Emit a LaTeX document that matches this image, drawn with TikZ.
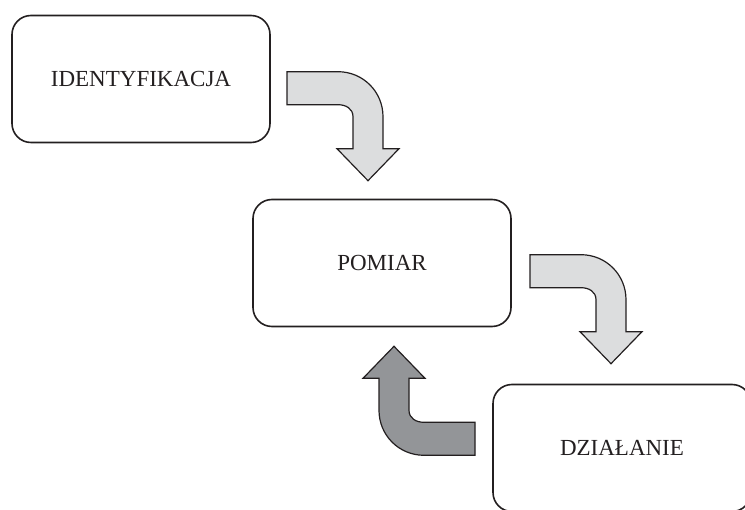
\documentclass[tikz,border=0pt]{standalone}
\usepackage{fontspec}
\setmainfont{Liberation Serif}
\usetikzlibrary{positioning,calc}
\definecolor{lightarr}{HTML}{DCDDDE}
\definecolor{darkarr}{HTML}{939598}
\definecolor{ink}{HTML}{231F20}
\tikzset{
  stage/.style={draw=ink, line width=1.6pt, rounded corners=19pt, minimum width=258pt, minimum height=127pt, text=ink, font=\fontsize{23}{27}\selectfont},
  bentarrow/.pic={
    \draw[draw=ink, line width=1.2pt, line join=miter, pic actions] (-81,-109) -- (-30,-109) .. controls (-5,-109) and (15,-89) .. (15,-64) -- (15,-32) -- (31,-32) -- (0,0) -- (-31,-32) -- (-15,-32) -- (-15,-64) .. controls (-15,-72) and (-22,-76) .. (-30,-76) -- (-81,-76) -- cycle;
  }
}
\begin{document}
\begin{tikzpicture}[x=1pt, y=-1pt]
\useasboundingbox (0,0) rectangle (745,510);
% the three stages
\node[stage] (ident) at (141,79) {IDENTYFIKACJA};
\node[stage] (pomiar) at (382,263) {POMIAR};
\node[stage, overlay] (dzialanie) at (622,448) {DZIAŁANIE};
% bent block arrows, placed at their tips
\coordinate (tip1) at ($(pomiar.north)+(-14,-18)$);
\coordinate (tip2) at ($(dzialanie.north)+(-11,-20)$);
\coordinate (tip3) at ($(pomiar.south)+(12,19)$);
\pic[fill=lightarr] at (tip1) {bentarrow};
\pic[fill=lightarr] at (tip2) {bentarrow};
\pic[fill=darkarr, rotate=180] at (tip3) {bentarrow};
\end{tikzpicture}
\end{document}
